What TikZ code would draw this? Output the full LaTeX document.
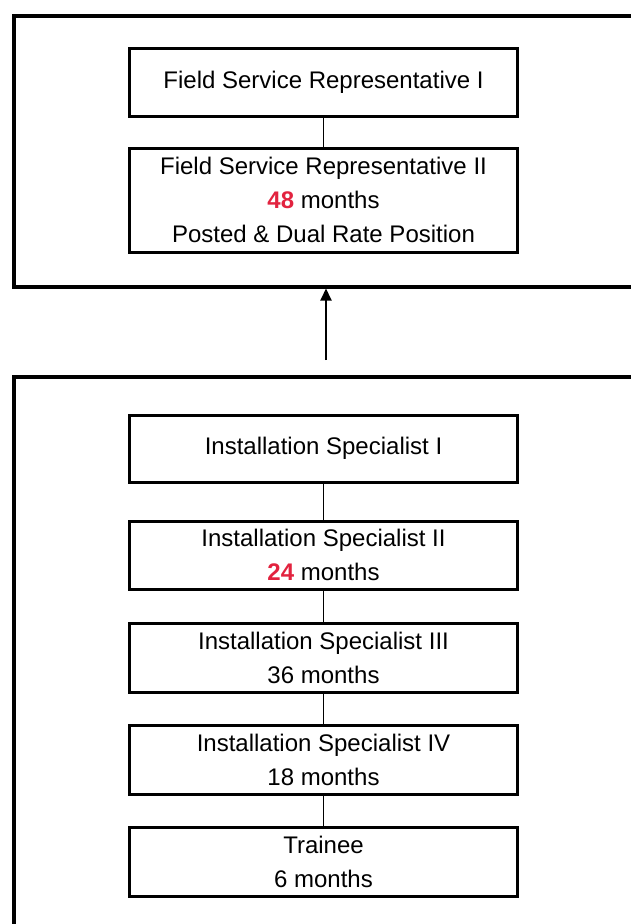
\documentclass[tikz,border=0pt]{standalone}
\usepackage{fontspec}
\setmainfont{Liberation Sans}
\usetikzlibrary{arrows.meta}
\definecolor{numred}{HTML}{E2233F}
\tikzset{
  jobbox/.style={draw=black, line width=3pt, rectangle, minimum width=388pt, inner sep=0pt, align=center, font=\fontsize{24}{34}\selectfont},
  frame/.style={draw=black, line width=3.5pt, rectangle, inner sep=0pt, anchor=north west},
  link/.style={draw=black, line width=1.5pt},
  uparrow/.style={draw=black, line width=2pt, -{Triangle[length=12pt,width=11pt]}}
}
\newcommand{\rednum}[1]{\textcolor{numred}{\textbf{#1}}}
\begin{document}
\begin{tikzpicture}[x=1pt,y=-1pt]
\useasboundingbox (0,0) rectangle (631,924);
\node[frame, minimum width=640pt, minimum height=271pt] (topframe) at (12,14) {};
\node[frame, minimum width=640pt, minimum height=570pt] (botframe) at (12,375) {};

\node[jobbox, minimum height=68pt] (fsr1) at (323.5,82) {Field Service Representative I};
\node[jobbox, minimum height=104pt] (fsr2) at (323.5,200) {Field Service Representative II\\ \rednum{48} months\\ Posted \& Dual Rate Position};

\node[jobbox, minimum height=67pt] (is1) at (323.5,448.5) {Installation Specialist I};
\node[jobbox, minimum height=68pt] (is2) at (323.5,555) {Installation Specialist II\\ \rednum{24} months};
\node[jobbox, minimum height=69pt] (is3) at (323.5,657.5) {Installation Specialist III\\ 36 months};
\node[jobbox, minimum height=69pt] (is4) at (323.5,759.5) {Installation Specialist IV\\ 18 months};
\node[jobbox, minimum height=69pt] (tr) at (323.5,862) {Trainee\\ 6 months};

\draw[link] (fsr1) -- (fsr2);
\draw[link] (is1) -- (is2);
\draw[link] (is2) -- (is3);
\draw[link] (is3) -- (is4);
\draw[link] (is4) -- (tr);

\coordinate (tail) at (326,360);
\draw[uparrow] (tail) -- (tail |- topframe.south);
\end{tikzpicture}
\end{document}
